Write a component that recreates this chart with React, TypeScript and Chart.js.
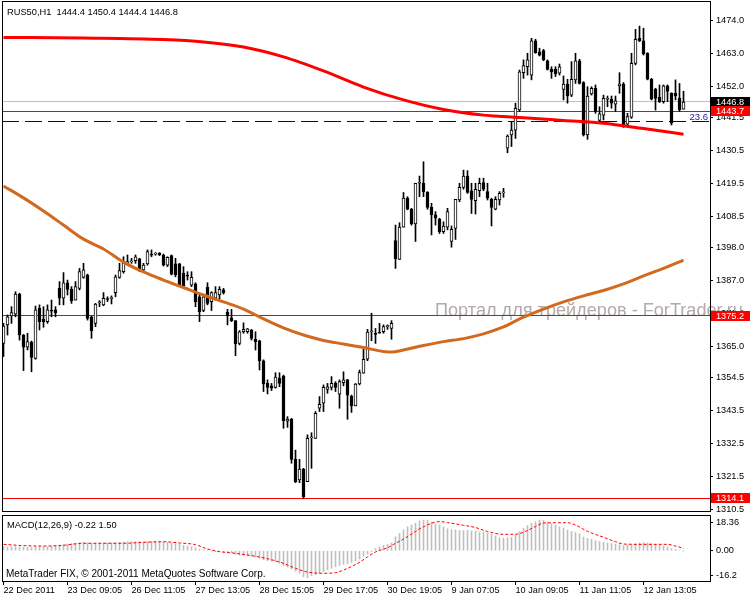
import React, { useEffect, useRef } from "react";
import { Chart, registerables } from "chart.js";

Chart.register(...registerables);

const FONT = "'Liberation Sans', Arial, sans-serif";

// ---- candles (H1), bar index 0..170 ----
const opens = [
  1366.0, 1372.2, 1375.2, 1375.8, 1382.5, 1368.8, 1364.7, 1366.4, 1361.0, 1377.7,
  1374.1, 1373.3, 1376.9, 1377.2, 1384.4, 1381.1, 1386.3, 1384.1, 1380.5, 1384.4,
  1388.1, 1388.9, 1374.9, 1372.7, 1379.6, 1378.9, 1380.8, 1381.0, 1383.0, 1388.1,
  1390.0, 1392.6, 1393.3, 1393.7, 1394.3, 1390.6, 1392.6, 1395.6, 1395.9, 1396.2,
  1395.6, 1392.2, 1395.4, 1392.6, 1392.6, 1389.5, 1388.6, 1385.5, 1385.9, 1381.6,
  1377.0, 1384.8, 1380.0, 1381.1, 1382.2, 1383.9, 1376.4, 1374.6, 1373.6, 1366.0,
  1369.9, 1369.9, 1370.5, 1367.4, 1366.9, 1360.2, 1352.6, 1351.8, 1351.3, 1354.3,
  1355.1, 1340.0, 1340.7, 1327.2, 1320.3, 1323.9, 1319.7, 1334.4, 1334.2, 1344.3,
  1346.0, 1350.6, 1351.3, 1352.6, 1349.0, 1352.9, 1353.8, 1348.4, 1345.1, 1352.4,
  1356.0, 1360.7, 1369.9, 1369.4, 1369.6, 1369.9, 1371.6, 1371.0, 1400.4, 1394.1,
  1404.9, 1414.6, 1410.9, 1406.0, 1419.6, 1419.6, 1416.6, 1411.5, 1409.0, 1407.5,
  1403.4, 1404.9, 1400.1, 1404.5, 1414.0, 1418.2, 1422.0, 1417.1, 1413.8, 1417.1,
  1419.8, 1416.8, 1414.2, 1410.9, 1414.0, 1416.4, 1431.3, 1435.8, 1437.4, 1444.1,
  1456.6, 1458.6, 1455.8, 1467.3, 1463.6, 1464.0, 1460.6, 1457.7, 1457.7, 1456.4,
  1451.0, 1452.8, 1449.1, 1454.2, 1460.6, 1453.3, 1435.8, 1449.5, 1451.4, 1440.6,
  1442.4, 1447.7, 1447.7, 1446.1, 1452.2, 1452.8, 1439.4, 1441.7, 1459.7, 1468.1,
  1467.3, 1463.1, 1454.4, 1451.0, 1448.4, 1446.9, 1452.2, 1449.7, 1449.7, 1448.0,
  1444.4,
];
const highs = [
  1372.7, 1375.5, 1378.3, 1383.3, 1382.8, 1369.0, 1369.4, 1366.8, 1378.5, 1378.9,
  1378.3, 1378.9, 1380.5, 1378.3, 1386.7, 1389.7, 1387.2, 1385.0, 1386.7, 1391.1,
  1392.8, 1389.2, 1375.2, 1379.4, 1380.3, 1383.0, 1381.6, 1381.9, 1388.9, 1392.8,
  1395.0, 1395.6, 1394.5, 1395.6, 1394.5, 1392.8, 1397.3, 1397.3, 1396.4, 1396.4,
  1395.9, 1395.0, 1395.6, 1394.5, 1392.8, 1391.7, 1390.0, 1390.0, 1386.3, 1382.2,
  1382.2, 1386.3, 1383.3, 1385.0, 1385.0, 1384.4, 1377.4, 1377.4, 1373.6, 1370.3,
  1372.9, 1371.0, 1370.7, 1369.9, 1367.1, 1360.5, 1353.8, 1352.6, 1356.2, 1356.2,
  1355.4, 1341.5, 1340.9, 1330.3, 1327.2, 1324.2, 1335.4, 1336.1, 1343.2, 1348.2,
  1352.1, 1352.6, 1354.9, 1353.2, 1353.8, 1356.5, 1354.0, 1348.7, 1352.6, 1357.1,
  1364.0, 1370.7, 1376.1, 1371.0, 1372.7, 1372.2, 1372.2, 1373.6, 1405.6, 1406.4,
  1416.5, 1415.1, 1411.2, 1419.6, 1422.0, 1426.8, 1416.8, 1412.9, 1410.1, 1407.9,
  1406.7, 1411.2, 1405.3, 1414.2, 1419.6, 1424.0, 1423.8, 1419.6, 1419.6, 1421.3,
  1421.3, 1419.6, 1414.6, 1415.1, 1416.8, 1417.9, 1435.8, 1440.2, 1446.4, 1457.5,
  1460.9, 1463.1, 1468.1, 1467.8, 1464.8, 1464.4, 1460.9, 1458.6, 1458.6, 1459.5,
  1455.5, 1454.4, 1460.3, 1463.1, 1461.1, 1453.6, 1451.9, 1451.9, 1452.5, 1445.2,
  1449.1, 1448.8, 1448.8, 1448.8, 1456.6, 1453.3, 1443.0, 1463.1, 1471.1, 1472.2,
  1471.5, 1463.3, 1454.7, 1451.4, 1452.5, 1452.5, 1452.5, 1449.9, 1454.2, 1453.0,
  1450.4,
];
const lows = [
  1361.6, 1368.8, 1372.7, 1374.9, 1367.1, 1356.9, 1363.8, 1356.5, 1360.7, 1370.5,
  1371.4, 1372.7, 1374.9, 1374.9, 1378.9, 1378.9, 1382.2, 1379.4, 1380.5, 1383.9,
  1387.8, 1373.8, 1367.7, 1371.6, 1378.3, 1378.6, 1380.0, 1379.2, 1381.6, 1387.8,
  1389.5, 1392.2, 1392.8, 1392.8, 1390.0, 1390.0, 1392.2, 1395.0, 1395.5, 1395.4,
  1391.9, 1391.7, 1388.9, 1388.3, 1385.0, 1385.0, 1387.2, 1385.0, 1378.3, 1373.3,
  1376.6, 1378.9, 1377.0, 1380.5, 1380.5, 1382.5, 1372.2, 1373.3, 1361.9, 1365.5,
  1369.4, 1369.4, 1367.1, 1363.8, 1357.1, 1349.9, 1349.1, 1350.2, 1351.0, 1351.5,
  1337.6, 1337.9, 1325.9, 1319.4, 1319.4, 1314.1, 1319.7, 1324.2, 1334.2, 1343.2,
  1343.2, 1349.3, 1350.4, 1349.9, 1344.3, 1351.8, 1340.6, 1342.9, 1345.1, 1352.1,
  1356.0, 1360.2, 1366.9, 1366.0, 1369.4, 1369.4, 1370.7, 1367.4, 1391.1, 1394.1,
  1404.9, 1410.7, 1405.6, 1400.1, 1415.1, 1415.1, 1410.9, 1402.3, 1405.6, 1402.8,
  1402.8, 1404.0, 1398.2, 1400.8, 1413.4, 1417.6, 1416.2, 1409.5, 1409.3, 1415.1,
  1417.1, 1414.0, 1405.3, 1410.7, 1412.3, 1414.9, 1429.8, 1431.9, 1434.6, 1443.6,
  1454.7, 1455.8, 1454.2, 1463.1, 1462.2, 1460.6, 1457.5, 1454.7, 1455.3, 1455.8,
  1447.5, 1446.4, 1448.6, 1453.0, 1452.8, 1435.4, 1434.3, 1449.1, 1443.0, 1440.2,
  1440.8, 1445.2, 1444.7, 1443.6, 1449.7, 1438.3, 1438.5, 1441.3, 1459.2, 1467.0,
  1462.5, 1454.2, 1447.5, 1444.1, 1446.6, 1446.4, 1446.9, 1439.1, 1447.5, 1443.6,
  1444.4,
];
const closes = [
  1371.8, 1374.9, 1376.3, 1382.5, 1368.8, 1364.7, 1366.6, 1361.3, 1377.2, 1373.3,
  1373.3, 1377.2, 1376.8, 1376.3, 1381.1, 1386.3, 1384.1, 1380.2, 1385.0, 1390.0,
  1390.6, 1374.4, 1370.3, 1379.2, 1379.7, 1381.1, 1380.7, 1381.1, 1388.3, 1390.4,
  1393.0, 1393.4, 1393.4, 1395.0, 1390.8, 1392.2, 1396.7, 1395.5, 1396.0, 1395.6,
  1392.2, 1394.8, 1389.2, 1388.9, 1385.2, 1385.2, 1388.5, 1388.1, 1380.0, 1376.6,
  1381.6, 1379.4, 1383.0, 1383.0, 1384.1, 1383.0, 1375.2, 1373.6, 1365.8, 1369.9,
  1370.7, 1370.9, 1367.7, 1366.6, 1360.2, 1352.4, 1351.3, 1351.0, 1354.7, 1352.6,
  1340.1, 1340.7, 1327.2, 1319.7, 1323.9, 1314.7, 1334.2, 1334.5, 1342.6, 1345.6,
  1351.3, 1351.5, 1352.6, 1351.3, 1353.2, 1353.8, 1348.7, 1345.1, 1352.4, 1356.2,
  1360.7, 1369.8, 1370.0, 1369.0, 1369.4, 1371.6, 1371.7, 1372.7, 1394.4, 1404.9,
  1414.6, 1410.9, 1406.0, 1419.6, 1419.7, 1416.8, 1411.5, 1409.0, 1407.9, 1403.4,
  1405.3, 1410.1, 1404.2, 1414.2, 1418.2, 1422.0, 1416.5, 1414.2, 1417.6, 1419.6,
  1417.6, 1414.6, 1411.5, 1414.2, 1416.2, 1416.5, 1435.4, 1437.4, 1444.7, 1456.9,
  1459.0, 1460.9, 1467.3, 1463.3, 1462.5, 1460.9, 1457.7, 1456.9, 1456.2, 1458.6,
  1452.8, 1448.8, 1454.4, 1460.6, 1453.0, 1435.8, 1448.8, 1451.4, 1443.6, 1442.8,
  1448.0, 1447.8, 1446.4, 1447.2, 1452.8, 1438.8, 1441.9, 1459.7, 1467.8, 1467.3,
  1462.9, 1454.4, 1447.7, 1448.0, 1446.9, 1452.2, 1450.3, 1439.7, 1448.8, 1444.1,
  1446.8,
];

// ---- moving averages (read at selected bars) ----
const redMaBars = [0, 20, 40, 50, 60, 70, 80, 90, 100, 110, 120, 125, 130, 140, 150, 160, 170];
const redMaVals = [1468.4, 1468.2, 1467.7, 1466.9, 1465.2, 1461.9, 1457.2, 1451.8, 1447.5, 1444.3, 1442.4, 1441.9, 1441.5, 1440.6, 1439.7, 1437.9, 1436.0];
const orangeMaBars = [0, 5, 10, 15, 20, 25, 30, 35, 40, 45, 50, 55, 60, 65, 70, 75, 80, 85, 90, 95, 97, 100, 105, 110, 115, 120, 125, 130, 135, 140, 145, 150, 155, 160, 165, 170];
const orangeMaVals = [1418.7, 1414.7, 1410.3, 1405.6, 1400.9, 1397.6, 1393.2, 1389.9, 1387.2, 1384.7, 1382.2, 1379.9, 1377.5, 1374.2, 1371.2, 1368.8, 1367.0, 1365.8, 1364.6, 1363.3, 1363.1, 1363.8, 1365.3, 1366.6, 1367.6, 1369.2, 1371.5, 1374.8, 1377.5, 1379.9, 1381.9, 1383.7, 1385.9, 1388.6, 1391.1, 1393.9];

// ---- MACD(12,26,9) ----
const macdHist = [
  2.6, 2.4, 2.6, 2.7, 2.5, 2.3, 2.2, 2.0, 2.4, 2.5,
  2.6, 2.5, 2.9, 3.1, 3.6, 4.0, 4.3, 4.6, 4.9, 5.2,
  5.4, 5.0, 4.8, 4.9, 4.9, 5.0, 5.1, 5.0, 5.2, 5.4,
  5.6, 5.7, 5.8, 5.9, 5.8, 5.7, 5.9, 6.0, 6.1, 6.0,
  5.8, 5.4, 5.0, 4.6, 4.1, 3.5, 3.1, 2.6, 1.8, 1.0,
  0.6, 0.3, -0.3, -0.6, -0.8, -1.0, -1.2, -1.5, -2.4, -2.8,
  -3.0, -3.3, -3.6, -4.0, -4.8, -5.8, -6.4, -6.9, -7.4, -8.3,
  -9.6, -10.5, -11.8, -13.2, -14.6, -16.8, -17.6, -16.2, -15.4, -14.8,
  -13.6, -12.4, -11.4, -10.4, -9.6, -8.8, -8.4, -7.6, -6.6, -5.4,
  -3.5, -2.2, -0.8, 1.4, 2.6, 3.4, 4.0, 5.0, 9.0, 11.2,
  13.4, 15.5, 16.6, 17.7, 19.3, 19.8, 19.8, 18.6, 17.2, 16.6,
  15.3, 14.2, 13.6, 13.4, 13.2, 13.0, 13.2, 12.8, 12.5, 12.0,
  12.2, 11.5, 10.6, 9.5, 8.4, 8.0, 8.3, 8.6, 10.2, 12.4,
  14.5, 16.2, 17.6, 18.8, 19.8, 19.5, 18.6, 17.4, 16.6, 15.4,
  14.5, 13.4, 12.6, 11.8, 11.0, 8.8, 7.9, 7.4, 6.5, 6.0,
  5.5, 5.0, 4.6, 4.2, 3.8, 3.3, 3.6, 3.9, 4.4, 5.0,
  5.3, 5.0, 4.6, 4.1, 3.4, 2.8, 2.3, 1.4, 0.9, 0.4,
  -0.22,
];
const signalBars = [0, 5, 10, 15, 20, 25, 30, 35, 40, 44, 48, 51, 54, 58, 62, 66, 70, 73, 76, 80, 83, 86, 89, 91, 93, 96, 98, 100, 103, 105, 109, 111, 115, 118, 121, 125, 128, 130, 133, 135, 141, 143, 146, 150, 153, 155, 160, 166, 168, 170];
const signalVals = [4.1, 3.3, 3.0, 3.5, 4.8, 4.8, 4.8, 5.4, 5.8, 5.0, 3.9, 1.1, -0.6, -1.7, -3.2, -5.2, -8.2, -11.4, -13.8, -14.6, -14.2, -11.4, -7.5, -4.0, -0.8, 1.9, 4.8, 7.5, 12.4, 15.5, 18.8, 18.2, 16.4, 15.0, 12.4, 10.6, 10.6, 12.0, 15.6, 17.9, 18.1, 16.6, 12.5, 8.7, 5.8, 4.3, 4.1, 4.1, 3.0, 1.5];

// ---- axes / labels ----
const priceTicks = [1474.0, 1463.0, 1452.0, 1441.5, 1430.5, 1419.5, 1408.5, 1398.0, 1387.0, 1376.0, 1365.0, 1354.5, 1343.5, 1332.5, 1321.5, 1310.5];
const macdTicks = [18.36, 0, -16.2];
const macdTickLabels = ["18.36", "0.00", "-16.2"];
const dateTickBars = [0, 16, 32, 48, 64, 80, 96, 112, 128, 144, 160];
const dateLabels = ["22 Dec 2011", "23 Dec 09:05", "26 Dec 11:05", "27 Dec 13:05", "28 Dec 15:05", "29 Dec 17:05", "30 Dec 19:05", "9 Jan 07:05", "10 Jan 09:05", "11 Jan 11:05", "12 Jan 13:05"];

// ---- horizontal levels ----
const bidPrice = 1446.8;
const levelPrices = [1443.7, 1375.2, 1314.1];
const fibPrice = 1440.1;
const fibLabel = "23.6";

const titleText = "RUS50,H1  1444.4 1450.4 1444.4 1446.8";
const macdTitle = "MACD(12,26,9) -0.22 1.50";
const copyrightText = "MetaTrader FIX, \u00A9 2001-2011 MetaQuotes Software Corp.";
const watermarkText = "Портал для трейдеров - ForTrader.ru";

const X_MIN = -0.375;
const X_MAX = 176.625;
const TICK_FONT = { family: FONT, size: 9.2 };

function fitSize(ctx: CanvasRenderingContext2D, text: string, width: number, base: number) {
  ctx.font = `${base}px ${FONT}`;
  const w = ctx.measureText(text).width;
  return (base * width) / w;
}

function drawFitText(ctx: CanvasRenderingContext2D, text: string, x: number, y: number, width: number, color: string) {
  const s = fitSize(ctx, text, width, 10);
  ctx.font = `${s}px ${FONT}`;
  ctx.fillStyle = color;
  ctx.textAlign = "left";
  ctx.textBaseline = "alphabetic";
  ctx.fillText(text, x, y);
}

const mainOverlay = {
  id: "mainOverlay",
  beforeDatasetsDraw(chart: any) {
    const ctx: CanvasRenderingContext2D = chart.ctx;
    const { left, right } = chart.chartArea;
    const ys = chart.scales.y;
    const row = (v: number) => Math.floor(ys.getPixelForValue(v)) + 0.5;
    const hline = (y: number) => {
      ctx.beginPath();
      ctx.moveTo(left, y);
      ctx.lineTo(right, y);
      ctx.stroke();
    };
    ctx.save();
    drawFitText(ctx, watermarkText, 435, 316, 308, "#b3aaaa");
    ctx.lineWidth = 1;
    ctx.strokeStyle = "#c0c0c0";
    hline(row(bidPrice));
    ctx.strokeStyle = "#ff0000";
    levelPrices.forEach((p) => hline(row(p)));
    ctx.strokeStyle = "#000080";
    ctx.setLineDash([17, 6]);
    hline(row(fibPrice));
    ctx.setLineDash([]);
    ctx.font = `9.5px ${FONT}`;
    ctx.fillStyle = "#20209a";
    ctx.textAlign = "right";
    ctx.textBaseline = "alphabetic";
    ctx.fillText(fibLabel, right - 2, row(fibPrice) - 2);
    ctx.restore();
  },
  afterDraw(chart: any) {
    const ctx: CanvasRenderingContext2D = chart.ctx;
    const ys = chart.scales.y;
    ctx.save();
    ctx.lineWidth = 1;
    ctx.strokeStyle = "#000";
    ctx.strokeRect(2.5, 1.5, 708, 510);

    drawFitText(ctx, titleText, 7, 15, 171, "#000");

    const box = (p: number, bg: string) => {
      const yc = Math.round(ys.getPixelForValue(p));
      ctx.fillStyle = bg;
      ctx.fillRect(711, yc - 5, 39, 10);
      ctx.fillStyle = "#fff";
      ctx.font = `9.2px ${FONT}`;
      ctx.textAlign = "left";
      ctx.textBaseline = "middle";
      ctx.fillText(p.toFixed(1), 716, yc);
    };
    box(bidPrice, "#000");
    levelPrices.forEach((p) => box(p, "#ff0000"));
    ctx.restore();
  },
};

const macdOverlay = {
  id: "macdOverlay",
  afterDraw(chart: any) {
    const ctx: CanvasRenderingContext2D = chart.ctx;
    ctx.save();
    ctx.lineWidth = 1;
    ctx.strokeStyle = "#000";
    ctx.strokeRect(2.5, 3.5, 708, 66);
    drawFitText(ctx, macdTitle, 7, 16, 110, "#000");
    drawFitText(ctx, copyrightText, 6, 65, 260, "#000");
    ctx.restore();
  },
};

function zeroPad(s: any) {
  s.paddingTop = 0;
  s.paddingBottom = 0;
  s.paddingLeft = 0;
  s.paddingRight = 0;
}

export default function App() {
  const mainRef = useRef<HTMLCanvasElement>(null);
  const macdRef = useRef<HTMLCanvasElement>(null);

  useEffect(() => {
    document.body.style.margin = "0";
    const idx = opens.map((_, i) => i);
    const bodies = idx.map((i) => ({ x: i, y: [opens[i], closes[i]] }));
    const wicks = idx.map((i) => ({ x: i, y: [lows[i], highs[i]] }));
    const bodyColors = idx.map((i) => (closes[i] >= opens[i] ? "#ffffff" : "#000000"));
    const redMa = redMaBars.map((b, k) => ({ x: b, y: redMaVals[k] }));
    const orangeMa = orangeMaBars.map((b, k) => ({ x: b, y: orangeMaVals[k] }));

    const main = new Chart(mainRef.current as HTMLCanvasElement, {
      type: "bar",
      data: {
        datasets: [
          {
            type: "line",
            data: redMa,
            borderColor: "#ff0000",
            borderWidth: 3,
            pointRadius: 0,
            cubicInterpolationMode: "monotone",
            order: 0,
          } as any,
          {
            type: "line",
            data: orangeMa,
            borderColor: "#d2691e",
            borderWidth: 3,
            pointRadius: 0,
            cubicInterpolationMode: "monotone",
            order: 0,
          } as any,
          {
            type: "bar",
            data: bodies,
            backgroundColor: bodyColors,
            borderColor: "#000000",
            borderWidth: 1,
            borderSkipped: false,
            barThickness: 3,
            minBarLength: 1,
            grouped: false,
            order: 1,
          } as any,
          {
            type: "bar",
            data: wicks,
            backgroundColor: "#000000",
            barThickness: 1,
            grouped: false,
            order: 2,
          } as any,
        ],
      },
      options: {
        responsive: false,
        animation: false,
        devicePixelRatio: 1,
        events: [],
        layout: { padding: { left: 2, top: 2, right: 0, bottom: 9 } },
        plugins: { legend: { display: false }, tooltip: { enabled: false } },
        scales: {
          x: {
            type: "linear",
            min: X_MIN,
            max: X_MAX,
            display: false,
            offset: false,
            grid: { offset: false },
            afterFit: zeroPad,
          },
          y: {
            position: "right",
            min: 1309.91,
            max: 1480.26,
            afterBuildTicks: (s: any) => {
              s.ticks = priceTicks.map((v) => ({ value: v }));
            },
            afterFit: (s: any) => {
              s.width = 40;
              zeroPad(s);
            },
            ticks: {
              autoSkip: false,
              padding: 3,
              color: "#000",
              font: TICK_FONT,
              callback: (v: any) => Number(v).toFixed(1),
            },
            grid: { drawOnChartArea: false, drawTicks: true, tickLength: 3, color: "#000" },
            border: { display: false },
          },
        },
      } as any,
      plugins: [mainOverlay],
    });

    const hist = macdHist.map((v, i) => ({ x: i, y: v }));
    const signal = signalBars.map((b, k) => ({ x: b, y: signalVals[k] }));

    const macd = new Chart(macdRef.current as HTMLCanvasElement, {
      type: "bar",
      data: {
        datasets: [
          {
            type: "line",
            data: signal,
            borderColor: "#ff0000",
            borderWidth: 1,
            borderDash: [3, 2],
            pointRadius: 0,
            cubicInterpolationMode: "monotone",
            order: 0,
          } as any,
          {
            type: "bar",
            data: hist,
            backgroundColor: "#c0c0c0",
            barThickness: 1,
            grouped: false,
            order: 1,
          } as any,
        ],
      },
      options: {
        responsive: false,
        animation: false,
        devicePixelRatio: 1,
        events: [],
        layout: { padding: { left: 2, top: 3, right: 0, bottom: 0 } },
        plugins: { legend: { display: false }, tooltip: { enabled: false } },
        scales: {
          x: {
            type: "linear",
            position: "bottom",
            min: X_MIN,
            max: X_MAX,
            offset: false,
            afterBuildTicks: (s: any) => {
              s.ticks = dateTickBars.map((v) => ({ value: v }));
            },
            afterFit: (s: any) => {
              s.height = 19;
              zeroPad(s);
            },
            ticks: {
              autoSkip: false,
              maxRotation: 0,
              minRotation: 0,
              align: "start",
              padding: 0,
              color: "#000",
              font: TICK_FONT,
              callback: (v: any, i: number) => dateLabels[i] ?? "",
            },
            grid: { offset: false, drawOnChartArea: false, drawTicks: true, tickLength: 4, color: "#000" },
            border: { display: false },
          },
          y: {
            position: "right",
            min: -19.59,
            max: 23.08,
            afterBuildTicks: (s: any) => {
              s.ticks = macdTicks.map((v) => ({ value: v }));
            },
            afterFit: (s: any) => {
              s.width = 40;
              zeroPad(s);
            },
            ticks: {
              autoSkip: false,
              padding: 3,
              color: "#000",
              font: TICK_FONT,
              callback: (v: any, i: number) => macdTickLabels[i] ?? "",
            },
            grid: { drawOnChartArea: false, drawTicks: true, tickLength: 3, color: "#000" },
            border: { display: false },
          },
        },
      } as any,
      plugins: [macdOverlay],
    });

    return () => {
      main.destroy();
      macd.destroy();
    };
  }, []);

  return (
    <div style={{ position: "absolute", left: 0, top: 0, width: 750, height: 600, background: "#fff" }}>
      <canvas ref={mainRef} width={750} height={520} style={{ position: "absolute", left: 0, top: 0 }} />
      <canvas ref={macdRef} width={750} height={88} style={{ position: "absolute", left: 0, top: 512 }} />
    </div>
  );
}
